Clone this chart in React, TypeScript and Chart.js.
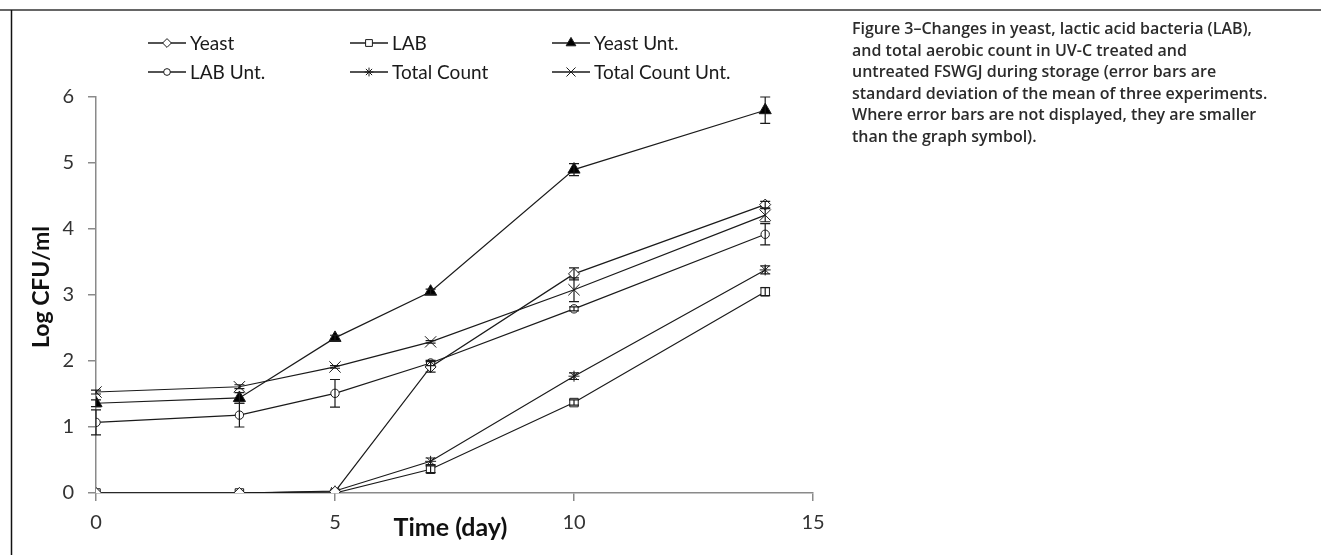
import React, { useEffect, useRef } from 'react';
import { Chart, registerables } from 'chart.js';
import { drawPoint } from 'chart.js/helpers';

Chart.register(...registerables);

// Storage time (days) and mean log counts with their standard deviations
const days = [0, 3, 5, 7, 10, 14];

const yeast = [0, 0, 0.02, 1.91, 3.32, 4.37];
const yeastSd = [0, 0, 0, 0.08, 0.09, 0.05];

const lab = [0, 0, 0, 0.36, 1.37, 3.05];
const labSd = [0, 0, 0, 0.05, 0.04, 0.06];

const yeastUnt = [1.36, 1.44, 2.35, 3.05, 4.9, 5.8];
const yeastUntSd = [0.05, 0.08, 0.04, 0.04, 0.09, 0.2];

const labUnt = [1.07, 1.18, 1.51, 1.97, 2.79, 3.92];
const labUntSd = [0.19, 0.18, 0.21, 0.04, 0.03, 0.16];

const totalCount = [0, 0, 0.03, 0.48, 1.77, 3.38];
const totalCountSd = [0, 0, 0, 0.05, 0.05, 0.06];

const totalCountUnt = [1.53, 1.61, 1.91, 2.29, 3.08, 4.21];
const totalCountUntSd = [0.03, 0.03, 0.02, 0.02, 0.18, 0.1];

const seriesNames = ['Yeast', 'LAB', 'Yeast Unt.', 'LAB Unt.', 'Total Count', 'Total Count Unt.'];
const xTickValues = [0, 5, 10, 15];
const yTickValues = [0, 1, 2, 3, 4, 5, 6];

const xTitle = 'Time (day)';
const yTitle = 'Log CFU/ml';

const captionLines = [
  'Figure 3\u2013Changes in yeast, lactic acid bacteria (LAB),',
  'and total aerobic count in UV-C treated and',
  'untreated FSWGJ during storage (error bars are',
  'standard deviation of the mean of three experiments.',
  'Where error bars are not displayed, they are smaller',
  'than the graph symbol).',
];

const INK = '#1a1a1a';
const AXIS = '#8a8a8a';
const TICK_FONT = 'Lato, "Open Sans", sans-serif';

type Style = { pointStyle: string; radius: number; fill: string };

const styles: Style[] = [
  { pointStyle: 'rectRot', radius: 5.5, fill: '#ffffff' },
  { pointStyle: 'rect', radius: 6, fill: '#ffffff' },
  { pointStyle: 'triangle', radius: 7, fill: '#000000' },
  { pointStyle: 'circle', radius: 4.2, fill: '#ffffff' },
  { pointStyle: 'star', radius: 5.5, fill: '#ffffff' },
  { pointStyle: 'crossRot', radius: 8, fill: '#ffffff' },
];

const values = [yeast, lab, yeastUnt, labUnt, totalCount, totalCountUnt];
const deviations = [yeastSd, labSd, yeastUntSd, labUntSd, totalCountSd, totalCountUntSd];

// Vertical error bars with caps, drawn over the series
const errorBars = {
  id: 'errorBars',
  afterDatasetsDraw(chart: any) {
    const { ctx, scales } = chart;
    const ys = scales.y;
    ctx.save();
    ctx.strokeStyle = INK;
    ctx.lineWidth = 1.2;
    chart.data.datasets.forEach((ds: any, i: number) => {
      const sd = deviations[i];
      const meta = chart.getDatasetMeta(i);
      meta.data.forEach((pt: any, j: number) => {
        const d = sd[j];
        if (!d) return;
        const v = ds.data[j].y;
        const top = ys.getPixelForValue(v + d);
        const bot = ys.getPixelForValue(v - d);
        const x = pt.x;
        ctx.beginPath();
        ctx.moveTo(x, top);
        ctx.lineTo(x, bot);
        ctx.moveTo(x - 5, top);
        ctx.lineTo(x + 5, top);
        ctx.moveTo(x - 5, bot);
        ctx.lineTo(x + 5, bot);
        ctx.stroke();
      });
    });
    ctx.restore();
  },
};

// Two-row legend with line-and-marker samples, plus the axis titles
const decorations = {
  id: 'decorations',
  afterDraw(chart: any) {
    const { ctx, chartArea } = chart;
    ctx.save();

    const colX = [148, 350, 552];
    const rowY = [43, 72];
    ctx.font = `19px ${TICK_FONT}`;
    ctx.textBaseline = 'middle';
    ctx.textAlign = 'left';
    seriesNames.forEach((name, i) => {
      const x = colX[i % 3];
      const y = rowY[Math.floor(i / 3)];
      const st = styles[i];
      ctx.strokeStyle = INK;
      ctx.lineWidth = 1.4;
      ctx.beginPath();
      ctx.moveTo(x, y);
      ctx.lineTo(x + 38, y);
      ctx.stroke();
      ctx.fillStyle = st.fill;
      ctx.lineWidth = 1;
      drawPoint(ctx, { pointStyle: st.pointStyle, radius: st.radius * 0.8, rotation: 0, borderWidth: 1 }, x + 19, y);
      ctx.fillStyle = INK;
      ctx.fillText(name, x + 42, y + 1);
    });

    ctx.fillStyle = '#111';
    ctx.textAlign = 'center';
    ctx.textBaseline = 'middle';
    ctx.font = `bold 25px ${TICK_FONT}`;
    ctx.fillText(xTitle, (chartArea.left + chartArea.right) / 2 - 4, 528);

    ctx.font = `bold 23px ${TICK_FONT}`;
    ctx.translate(42, (chartArea.top + chartArea.bottom) / 2 - 8);
    ctx.rotate(-Math.PI / 2);
    ctx.fillText(yTitle, 0, 0);
    ctx.restore();
  },
};

// Figure frame: rule along the top and down the left side
const frame = {
  id: 'frame',
  beforeDraw(chart: any) {
    const { ctx, width, height } = chart;
    ctx.save();
    ctx.fillStyle = '#ffffff';
    ctx.fillRect(0, 0, width, height);
    ctx.strokeStyle = '#666';
    ctx.lineWidth = 2;
    ctx.beginPath();
    ctx.moveTo(0, 10);
    ctx.lineTo(width, 10);
    ctx.stroke();
    ctx.strokeStyle = '#111';
    ctx.lineWidth = 1.5;
    ctx.beginPath();
    ctx.moveTo(11.5, 10);
    ctx.lineTo(11.5, height);
    ctx.stroke();
    ctx.restore();
  },
};

export default function App() {
  const canvasRef = useRef<HTMLCanvasElement | null>(null);

  useEffect(() => {
    const canvas = canvasRef.current;
    if (!canvas) return;

    const datasets = values.map((vals, i) => ({
      label: seriesNames[i],
      data: days.map((d, j) => ({ x: d, y: vals[j] })),
      borderColor: INK,
      borderWidth: 1.2,
      pointStyle: styles[i].pointStyle,
      pointRadius: styles[i].radius,
      pointHoverRadius: styles[i].radius,
      pointBackgroundColor: styles[i].fill,
      pointBorderColor: INK,
      pointBorderWidth: 1,
      fill: false,
      tension: 0,
    }));

    const chart = new Chart(canvas, {
      type: 'line',
      data: { datasets },
      options: {
        responsive: false,
        animation: false,
        devicePixelRatio: 1,
        layout: { padding: { left: 0, top: 97, right: 508, bottom: 0 } },
        plugins: {
          legend: { display: false },
          tooltip: { enabled: false },
        },
        scales: {
          x: {
            type: 'linear',
            min: 0,
            max: 15,
            afterFit: (s: any) => {
              s.height = 62;
            },
            afterBuildTicks: (s: any) => {
              s.ticks = xTickValues.map((v) => ({ value: v }));
            },
            grid: {
              display: true,
              drawOnChartArea: false,
              drawTicks: true,
              tickLength: 8,
              color: AXIS,
              lineWidth: 1.5,
            },
            border: { display: true, color: AXIS, width: 1.5 },
            ticks: {
              color: '#333',
              font: { family: TICK_FONT, size: 20 },
              padding: 10,
              maxRotation: 0,
            },
          },
          y: {
            type: 'linear',
            min: 0,
            max: 6,
            afterFit: (s: any) => {
              s.width = 96;
            },
            afterBuildTicks: (s: any) => {
              s.ticks = yTickValues.map((v) => ({ value: v }));
            },
            grid: {
              display: true,
              drawOnChartArea: false,
              drawTicks: true,
              tickLength: 8,
              color: AXIS,
              lineWidth: 1.5,
            },
            border: { display: true, color: AXIS, width: 1.5 },
            ticks: {
              color: '#333',
              font: { family: TICK_FONT, size: 20 },
              padding: 14,
            },
          },
        },
      },
      plugins: [frame, errorBars, decorations],
    });

    return () => chart.destroy();
  }, []);

  return (
    <div style={{ position: 'absolute', left: 0, top: 0, width: 1321, height: 555, background: '#fff' }}>
      <canvas ref={canvasRef} width={1321} height={555} style={{ display: 'block' }} />
      <div
        style={{
          position: 'absolute',
          left: 852,
          top: 18,
          fontFamily: '"Open Sans", "Noto Sans", sans-serif',
          fontWeight: 600,
          fontSize: 16,
          lineHeight: '21.5px',
          color: '#2b2b2b',
          whiteSpace: 'nowrap',
        }}
      >
        {captionLines.map((line, i) => (
          <div key={i}>{line}</div>
        ))}
      </div>
    </div>
  );
}
